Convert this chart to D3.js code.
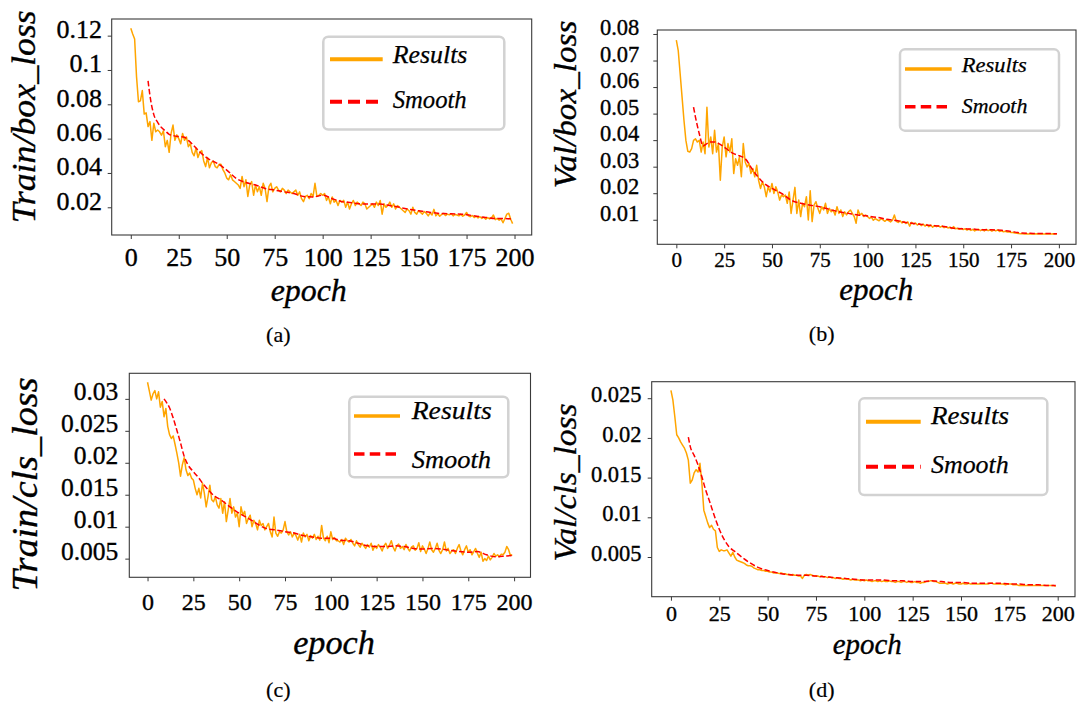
<!DOCTYPE html>
<html>
<head>
<meta charset="utf-8">
<script src="https://cdn.jsdelivr.net/npm/d3@7"></script>
<style>
  html, body { margin: 0; padding: 0; background: #fff; }
  svg { display: block; }
</style>
</head>
<body>
<svg width="1079" height="703"></svg>
<script>
// ---- data ----
const epochs = d3.range(200);
const xTicks = [0, 25, 50, 75, 100, 125, 150, 175, 200];

const trainBoxResults = [
  .1243,.121,.118,.096,.0815,.082,.088,.0743,.075,.067,
  .0699,.059,.069,.064,.065,.064,.062,.0645,.0553,.059,
  .052,.063,.0679,.059,.0622,.060,.057,.063,.059,.061,
  .0553,.057,.052,.050,.0545,.049,.052,.053,.047,.0437,
  .049,.043,.046,.047,.0437,.043,.045,.045,.042,.040,
  .037,.036,.039,.036,.035,.034,.033,.031,.038,.032,
  .036,.0263,.033,.035,.027,.033,.029,.032,.027,.034,
  .031,.0233,.032,.034,.029,.031,.032,.030,.029,.031,
  .030,.028,.030,.029,.028,.029,.030,.027,.029,.025,
  .0233,.0263,.027,.025,.028,.0263,.034,.0263,.027,.028,
  .027,.028,.024,.026,.022,.026,.023,.024,.021,.024,
  .023,.024,.020,.023,.019,.022,.024,.021,.023,.022,
  .021,.023,.022,.019,.020,.021,.022,.020,.023,.021,
  .024,.016,.022,.020,.021,.023,.020,.022,.019,.021,
  .020,.019,.018,.017,.019,.018,.016,.020,.017,.016,
  .018,.017,.016,.0175,.0165,.015,.0168,.0155,.0188,.015,
  .0162,.0148,.0158,.0164,.0152,.016,.0156,.0162,.015,.0158,
  .0155,.015,.016,.0148,.0155,.017,.015,.0145,.0152,.014,
  .0148,.0138,.0145,.0135,.0142,.013,.014,.0132,.0138,.0155,
  .0128,.0135,.0125,.0132,.011,.0135,.016,.0165,.013,.0105
];

const valBoxResults = [
  .0777,.0737,.065,.0562,.0474,.0399,.0358,.0355,.0368,.0399,
  .0405,.0393,.0399,.0355,.0393,.0349,.0524,.0374,.0412,.0349,
  .0437,.0355,.0387,.0249,.0374,.0412,.0337,.0387,.0355,.0405,
  .0274,.033,.0305,.0337,.0262,.0387,.0318,.0299,.0312,.0274,
  .0293,.0262,.0305,.0249,.0218,.0243,.0224,.0187,.0224,.0205,
  .0237,.0199,.0224,.0205,.0174,.0193,.0187,.0193,.0162,.0205,
  .0124,.0174,.0222,.0124,.0174,.0112,.0162,.0149,.0187,.0099,
  .0209,.0093,.0155,.0168,.0143,.0124,.0149,.0137,.0162,.0124,
  .0143,.013,.0137,.0118,.0149,.0124,.0137,.0112,.013,.0118,
  .013,.0137,.0124,.0112,.0087,.0137,.0118,.0124,.0112,.0118,
  .0112,.0105,.0110,.0098,.0104,.0100,.0096,.0104,.0100,.0094,
  .0100,.0097,.0092,.0098,.0118,.0094,.0090,.0096,.0088,.0093,
  .0086,.0092,.0076,.0090,.0084,.0088,.0080,.0086,.0078,.0084,
  .0076,.0082,.0074,.0080,.0072,.0078,.0074,.0077,.0072,.0076,
  .0070,.0074,.0069,.0072,.0067,.0074,.0066,.0068,.0064,.0067,
  .0063,.0066,.0061,.0065,.0060,.0064,.0058,.0062,.0064,.0059,
  .0063,.0058,.0064,.0059,.0062,.0057,.0061,.0058,.0062,.0056,
  .0058,.0055,.0057,.0054,.0055,.0052,.0052,.0050,.0049,.0048,
  .0047,.0047,.0046,.0047,.0046,.0047,.0046,.0046,.0047,.0046,
  .0046,.0047,.0046,.0046,.0047,.0046,.0046,.0047,.0046,.0047
];

const trainClsResults = [
  .0326,.0312,.0298,.0308,.0313,.0300,.0311,.0287,.0296,.0272,
  .0285,.0257,.0244,.0238,.0242,.0229,.0215,.0200,.0179,.0197,
  .0208,.0189,.0180,.0184,.0176,.0173,.0160,.0150,.0160,.0145,
  .0168,.0152,.0131,.0147,.0165,.0142,.0139,.0147,.0134,.0129,
  .0144,.0121,.0139,.0108,.0126,.0144,.0121,.0131,.0115,.0121,
  .0100,.0131,.0118,.0124,.0105,.0113,.0118,.0100,.0110,.0105,
  .0095,.0110,.0102,.0105,.0095,.0100,.0105,.0092,.0084,.0115,
  .0090,.0085,.0092,.0090,.0095,.0108,.0092,.0087,.0092,.0084,
  .0090,.0086,.0079,.0088,.0076,.0090,.0084,.0088,.0078,.0086,
  .0082,.0088,.0080,.0085,.0079,.0102,.0082,.0078,.0085,.0075,
  .0092,.0080,.0083,.0078,.0078,.0076,.0080,.0072,.0082,.0078,
  .0076,.0080,.0074,.0070,.0078,.0072,.0068,.0074,.0070,.0066,
  .0072,.0068,.0074,.0063,.0070,.0066,.0072,.0068,.0062,.0070,
  .0074,.0066,.0071,.0078,.0068,.0062,.0070,.0073,.0066,.0069,
  .0064,.0072,.0066,.0062,.0068,.0070,.0063,.0066,.0075,.0061,
  .0070,.0065,.0058,.0066,.0076,.0064,.0060,.0066,.0074,.0063,
  .0058,.0064,.0076,.0062,.0066,.0058,.0062,.0064,.0058,.0066,
  .0072,.0062,.0056,.0064,.0070,.0060,.0064,.0056,.0061,.0066,
  .0058,.0052,.0060,.0046,.0050,.0047,.0054,.0048,.0052,.0058,
  .0054,.0056,.0053,.0057,.0056,.0060,.0069,.0064,.0055,.0056
];

const valClsResults = [
  .026,.0248,.0227,.0204,.0200,.0195,.0191,.0187,.0181,.0172,
  .0143,.0147,.0156,.0160,.0157,.0168,.0143,.0109,.0101,.0093,
  .0087,.0090,.0085,.0083,.0062,.0057,.0059,.0058,.0058,.0059,
  .0055,.0051,.0056,.0050,.0046,.0045,.0044,.0043,.0042,.0040,
  .0039,.0039,.0038,.0036,.0035,.0034,.0034,.0033,.0033,.0032,
  .0032,.0031,.0031,.0030,.0030,.0030,.0029,.0030,.0029,.0029,
  .0028,.0028,.0027,.0028,.0027,.0027,.0026,.0026,.0023,.0027,
  .0028,.0027,.0028,.0027,.0026,.0026,.0026,.0025,.0026,.0025,
  .0025,.0024,.0025,.0024,.0024,.0023,.0024,.0023,.0023,.0022,
  .0023,.0022,.0022,.0021,.0022,.0021,.0021,.0021,.0020,.0021,
  .0020,.0021,.0020,.0020,.0019,.0020,.0020,.0019,.0020,.0019,
  .0020,.0019,.0019,.0020,.0019,.0019,.0018,.0019,.0019,.0018,
  .0019,.0019,.0018,.0019,.0018,.0018,.0019,.0018,.0018,.0017,
  .0018,.0018,.0019,.0019,.0020,.0020,.0019,.0019,.0018,.0017,
  .0017,.0017,.0017,.0016,.0017,.0017,.0016,.0017,.0017,.0016,
  .0016,.0017,.0016,.0016,.0017,.0016,.0016,.0016,.0016,.0016,
  .0016,.0016,.0016,.0016,.0016,.0017,.0017,.0016,.0016,.0016,
  .0016,.0016,.0016,.0015,.0016,.0016,.0016,.0015,.0015,.0015,
  .0014,.0014,.0014,.0014,.0014,.0014,.0014,.0014,.0014,.0014,
  .0014,.0014,.0014,.0014,.0014,.0014,.0014,.0014,.0014,.0013
];

// smoothed curves, sampled at these epochs
const smoothEpochs = [9,10,12,14,16,18,20,22,25,28,30,33,36,40,45,50,55,60,65,70,75,80,85,90,95,
  100,105,110,115,120,125,130,135,140,145,150,155,160,165,170,175,180,185,190,195,199];

const trainBoxSmooth = [.0936,.085,.074,.0695,.0665,.0645,.0625,.0618,.0612,.0608,.059,.0557,.0522,
  .0485,.0456,.0417,.0368,.0344,.033,.031,.030,.029,.028,.0263,.026,
  .027,.025,.0233,.0227,.022,.0219,.0219,.021,.020,.0188,.018,.0172,.0165,.0163,.0161,.0157,.0148,.0141,.0135,.0135,.013];
const valBoxSmooth = [.0524,.0487,.0424,.0378,.0387,.0393,.0393,.0388,.0374,.0358,.0349,.0341,.0330,
  .0287,.0243,.0218,.0199,.0174,.0162,.0155,.0149,.0139,.013,.0124,.0118,
  .0114,.0109,.0102,.0097,.009,.0085,.0081,.0077,.0075,.0068,.0066,.0065,.0062,.0062,.006,.0056,.005,.0049,.0048,.0048,.0047];
const trainClsSmooth = [.0300,.0296,.0286,.0270,.0251,.0231,.0210,.0197,.0186,.0176,.0168,.0158,.0149,
  .0142,.0131,.0121,.0113,.0104,.0097,.0095,.0092,.0090,.0086,.0084,.0082,
  .0082,.0079,.0078,.0074,.0070,.0069,.0069,.0070,.0069,.0066,.0065,.0066,.0065,.0063,.0061,.0060,.0061,.0056,.0053,.0054,.0055];
const valClsSmooth = [.0201,.0189,.0178,.0166,.0151,.0134,.0120,.0105,.0085,.0070,.0063,.0057,.0051,
  .0044,.0037,.0033,.0030,.0028,.0027,.0027,.0026,.0025,.0024,.0023,.0022,
  .0021,.0021,.0021,.0020,.0020,.0019,.0019,.0020,.0019,.0018,.0018,.0017,.0017,.0017,.0017,.0016,.0016,.0015,.0015,.0014,.0014];

const trainBoxTicks = [0.02, 0.04, 0.06, 0.08, 0.1, 0.12];
const trainBoxTickLabels = ["0.02", "0.04", "0.06", "0.08", "0.1", "0.12"];
const valBoxTicks = [0.01, 0.02, 0.03, 0.04, 0.05, 0.06, 0.07, 0.08];
const valBoxTickLabels = ["0.01", "0.02", "0.03", "0.04", "0.05", "0.06", "0.07", "0.08"];
const trainClsTicks = [0.005, 0.01, 0.015, 0.02, 0.025, 0.03];
const trainClsTickLabels = ["0.005", "0.01", "0.015", "0.02", "0.025", "0.03"];
const valClsTicks = [0.005, 0.01, 0.015, 0.02, 0.025];
const valClsTickLabels = ["0.005", "0.01", "0.015", "0.02", "0.025"];

// ---- drawing ----
const svg = d3.select("svg");
const serif = '"Liberation Serif"';
const orange = "#ffa500";
const red = "#ff0000";
const frameColor = "#3a3a3a";
const xDomain = [-9.95, 208.95];

const panels = [
  { results: trainBoxResults, smooth: trainBoxSmooth, yDomain: [0.00385, 0.1297],
    yTicks: trainBoxTicks, yTickLabels: trainBoxTickLabels, yLabel: "Train/box_loss", caption: "(a)",
    left: 111.7, right: 531.7, top: 19, bottom: 235,
    yTickFont: 26, yTickRight: 102, yTickRaise: 6.5, xTickFont: 26, xTickY: 22.5,
    yLabelX: 35, yLabelY: 116.7, yLabelFont: 34, yLabelLen: 213,
    epochX: 308.7, epochY: 301, epochFont: 32, epochLen: 76,
    captionX: 278.3, captionY: 334,
    legend: { x: 323.3, y: 36.7, w: 181, h: 92.8, x1: 330, x2: 382.7, y1: 59.3, y2: 101.7,
      textX: 392.7, t1: 63.3, t2: 108.3, font: 26, len1: 74.7, len2: 74, lw: 4 } },
  { results: valBoxResults, smooth: valBoxSmooth, yDomain: [0.00075, 0.0815],
    yTicks: valBoxTicks, yTickLabels: valBoxTickLabels, yLabel: "Val/box_loss", caption: "(b)",
    left: 657.3, right: 1076, top: 30, bottom: 244.3,
    yTickFont: 22.5, yTickRight: 639.3, yTickRaise: 7, xTickFont: 21, xTickY: 16,
    yLabelX: 576, yLabelY: 104.5, yLabelFont: 31, yLabelLen: 167.6,
    epochX: 876.3, epochY: 300, epochFont: 31, epochLen: 74,
    captionX: 821.7, captionY: 333.3,
    legend: { x: 900, y: 49.3, w: 159, h: 81.4, x1: 905, x2: 951.7, y1: 69, y2: 106.7,
      textX: 961.7, t1: 71.7, t2: 112.7, font: 22, len1: 65, len2: 65.7, lw: 3.5 } },
  { results: trainClsResults, smooth: trainClsSmooth, yDomain: [0.00208, 0.0340],
    yTicks: trainClsTicks, yTickLabels: trainClsTickLabels, yLabel: "Train/cls_loss", caption: "(c)",
    left: 129.3, right: 530.5, top: 373.3, bottom: 577.3,
    yTickFont: 25.5, yTickRight: 118.3, yTickRaise: 7.5, xTickFont: 24, xTickY: 24.4,
    yLabelX: 37, yLabelY: 484.5, yLabelFont: 36, yLabelLen: 214,
    epochX: 334, epochY: 654, epochFont: 34, epochLen: 81.7,
    captionX: 278.3, captionY: 689,
    legend: { x: 349.3, y: 396.7, w: 159, h: 80.6, x1: 354, x2: 400, y1: 416, y2: 454,
      textX: 411.7, t1: 419, t2: 468.3, font: 26, len1: 80, len2: 79.3, lw: 3.5 } },
  { results: valClsResults, smooth: valClsSmooth, yDomain: [0, 0.02708],
    yTicks: valClsTicks, yTickLabels: valClsTickLabels, yLabel: "Val/cls_loss", caption: "(d)",
    left: 651.7, right: 1075, top: 381.7, bottom: 596.7,
    yTickFont: 22.5, yTickRight: 641.5, yTickRaise: 4, xTickFont: 22, xTickY: 17,
    yLabelX: 576, yLabelY: 482.5, yLabelFont: 32, yLabelLen: 158,
    epochX: 867.2, epochY: 654, epochFont: 29, epochLen: 69,
    captionX: 821.7, captionY: 689,
    legend: { x: 859.3, y: 398.3, w: 188, h: 96.7, x1: 866, x2: 920.7, y1: 421.7, y2: 466.7,
      textX: 931, t1: 424, t2: 473.3, font: 26, len1: 78, len2: 77.7, lw: 4 } }
];

// every text gets the same serif face and a hairline stroke to thicken it like the TeX glyphs
function serifText(sel, size, italic) {
  return sel
    .style("font-family", serif)
    .style("font-style", italic ? "italic" : "normal")
    .style("font-size", size + "px")
    .attr("fill", "#000")
    .attr("stroke", "#000")
    .attr("stroke-width", 0.35);
}

function drawPanel(p) {
  const x = d3.scaleLinear().domain(xDomain).range([p.left, p.right]);
  const y = d3.scaleLinear().domain(p.yDomain).range([p.bottom, p.top]);
  const g = svg.append("g");

  const resultsLine = d3.line()
    .x((d, i) => x(epochs[i]))
    .y(d => y(d));
  g.append("path")
    .datum(p.results)
    .attr("d", resultsLine)
    .attr("fill", "none")
    .attr("stroke", orange)
    .attr("stroke-width", 1.5)
    .attr("stroke-linejoin", "round");

  const smoothLine = d3.line()
    .x((d, i) => x(smoothEpochs[i]))
    .y(d => y(d))
    .curve(d3.curveMonotoneX);
  g.append("path")
    .datum(p.smooth)
    .attr("d", smoothLine)
    .attr("fill", "none")
    .attr("stroke", red)
    .attr("stroke-width", 1.5)
    .attr("stroke-dasharray", "5.5,2.5");

  g.append("rect")
    .attr("x", p.left).attr("y", p.top)
    .attr("width", p.right - p.left).attr("height", p.bottom - p.top)
    .attr("fill", "none")
    .attr("stroke", frameColor)
    .attr("stroke-width", 1.1);

  // x axis
  const xAxis = g.append("g")
    .attr("transform", `translate(0,${p.bottom})`)
    .call(d3.axisBottom(x).tickValues(xTicks).tickSize(4).tickFormat(d3.format("d")));
  xAxis.select(".domain").remove();
  xAxis.attr("font-family", null).attr("font-size", null);
  xAxis.selectAll("line").attr("stroke", frameColor);
  serifText(xAxis.selectAll("text"), p.xTickFont, false)
    .attr("y", p.xTickY)
    .attr("dy", null)
    .attr("dominant-baseline", "central");

  // y axis
  const yAxis = g.append("g")
    .attr("transform", `translate(${p.left},0)`)
    .call(d3.axisLeft(y).tickValues(p.yTicks).tickSize(4).tickFormat((d, i) => p.yTickLabels[i]));
  yAxis.select(".domain").remove();
  yAxis.attr("font-family", null).attr("font-size", null);
  yAxis.selectAll("line").attr("stroke", frameColor);
  serifText(yAxis.selectAll("text"), p.yTickFont, false)
    .attr("x", p.yTickRight - p.left)
    .attr("y", -p.yTickRaise)
    .attr("dy", null)
    .attr("dominant-baseline", "central");

  // axis titles
  serifText(g.append("text"), p.yLabelFont, true)
    .attr("transform", `translate(${p.yLabelX},${p.yLabelY}) rotate(-90)`)
    .attr("text-anchor", "middle")
    .attr("textLength", p.yLabelLen)
    .attr("lengthAdjust", "spacingAndGlyphs")
    .text(p.yLabel);

  serifText(g.append("text"), p.epochFont, true)
    .attr("x", p.epochX).attr("y", p.epochY)
    .attr("text-anchor", "middle")
    .attr("textLength", p.epochLen)
    .attr("lengthAdjust", "spacingAndGlyphs")
    .text("epoch");

  serifText(g.append("text"), 22, false)
    .attr("x", p.captionX).attr("y", p.captionY)
    .attr("text-anchor", "middle")
    .attr("dominant-baseline", "central")
    .attr("stroke-width", 0.2)
    .text(p.caption);

  // legend
  const L = p.legend;
  const leg = g.append("g");
  leg.append("rect")
    .attr("x", L.x).attr("y", L.y).attr("width", L.w).attr("height", L.h)
    .attr("rx", 5)
    .attr("fill", "#fff")
    .attr("stroke", "#d2d2d2")
    .attr("stroke-width", 2.5);
  leg.append("line")
    .attr("x1", L.x1).attr("x2", L.x2).attr("y1", L.y1).attr("y2", L.y1)
    .attr("stroke", orange).attr("stroke-width", L.lw);
  leg.append("line")
    .attr("x1", L.x1).attr("x2", L.x2).attr("y1", L.y2).attr("y2", L.y2)
    .attr("stroke", red).attr("stroke-width", L.lw)
    .attr("stroke-dasharray", `${L.lw * 3},${L.lw * 1.5}`);
  [["Results", L.t1, L.len1], ["Smooth", L.t2, L.len2]].forEach(([label, ty, len]) => {
    serifText(leg.append("text"), L.font, true)
      .attr("x", L.textX).attr("y", ty)
      .attr("textLength", len)
      .attr("lengthAdjust", "spacingAndGlyphs")
      .attr("stroke-width", 0.25)
      .text(label);
  });
}

panels.forEach(drawPanel);
</script>
</body>
</html>
